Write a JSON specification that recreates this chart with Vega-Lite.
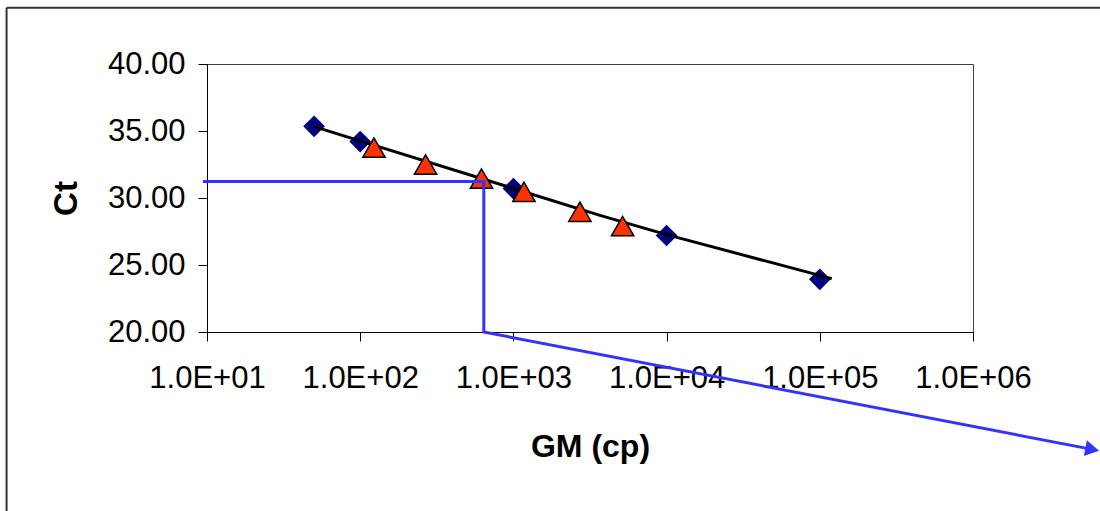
{
  "$schema": "https://vega.github.io/schema/vega-lite/v6.json",
  "width": 766,
  "height": 268,
  "autosize": {"type": "none"},
  "padding": {"left": 207, "top": 64, "right": 127, "bottom": 179},
  "background": "white",
  "config": {
    "view": {"stroke": "#404040", "strokeWidth": 1},
    "font": "Liberation Sans"
  },
  "layer": [
    {
      "data": {"values": [{"frame": "chart area left"}]},
      "mark": {"type": "rule", "color": "#333333", "strokeWidth": 2, "clip": false},
      "encoding": {
        "x": {"datum": 0.4917, "type": "quantitative"},
        "y": {"datum": 44.2, "type": "quantitative"},
        "y2": {"datum": 0}
      }
    },
    {
      "data": {"values": [{"frame": "chart area top"}]},
      "mark": {"type": "rule", "color": "#333333", "strokeWidth": 2, "clip": false},
      "encoding": {
        "x": {"datum": 0.4917, "type": "quantitative"},
        "x2": {"datum": 1000000000},
        "y": {"datum": 44.2, "type": "quantitative"}
      }
    },
    {
      "data": {"values": [
        {"gm": 50, "ct": 35.35},
        {"gm": 100, "ct": 34.21},
        {"gm": 1000, "ct": 30.7},
        {"gm": 10000, "ct": 27.2},
        {"gm": 100000, "ct": 23.93}
      ]},
      "mark": {"type": "point", "shape": "diamond", "filled": true, "color": "#000080", "size": 470, "opacity": 1},
      "encoding": {
        "x": {
          "field": "gm", "type": "quantitative",
          "scale": {"type": "log", "domain": [10, 1000000], "nice": false},
          "axis": {
            "values": [10, 100, 1000, 10000, 100000, 1000000],
            "labelExpr": "'1.0E+0' + round(log(datum.value)/LN10)",
            "grid": false,
            "tickSize": 9,
            "tickColor": "#000000",
            "domainColor": "#000000",
            "labelFontSize": 31,
            "labelColor": "#000000",
            "labelPadding": 22,
            "labelFlush": false,
            "labelOverlap": false,
            "title": "GM (cp)",
            "titleFontSize": 32,
            "titleFontWeight": "bold",
            "titleColor": "#000000",
            "titlePadding": 38
          }
        },
        "y": {
          "field": "ct", "type": "quantitative",
          "scale": {"domain": [20, 40], "nice": false, "zero": false},
          "axis": {
            "values": [20, 25, 30, 35, 40],
            "format": ".2f",
            "grid": false,
            "tickSize": 9,
            "tickColor": "#000000",
            "domainColor": "#000000",
            "labelFontSize": 31,
            "labelColor": "#000000",
            "labelPadding": 13,
            "labelFlush": false,
            "title": "Ct",
            "titleFontSize": 33,
            "titleFontWeight": "bold",
            "titleColor": "#000000",
            "titlePadding": 24
          }
        }
      }
    },
    {
      "data": {"values": [
        {"gm": 50, "ct": 35.33},
        {"gm": 1000, "ct": 30.71},
        {"gm": 3673, "ct": 28.7},
        {"gm": 10000, "ct": 27.27},
        {"gm": 119700, "ct": 23.98}
      ]},
      "mark": {"type": "line", "color": "#000000", "strokeWidth": 3},
      "encoding": {
        "x": {"field": "gm", "type": "quantitative"},
        "y": {"field": "ct", "type": "quantitative"}
      }
    },
    {
      "data": {"values": [
        {"gm": 123, "ct": 33.76},
        {"gm": 267, "ct": 32.5},
        {"gm": 619, "ct": 31.45},
        {"gm": 1172, "ct": 30.46},
        {"gm": 2716, "ct": 28.97},
        {"gm": 5164, "ct": 27.9}
      ]},
      "mark": {"type": "point", "shape": "triangle-up", "filled": true, "fill": "#FF3300", "stroke": "#000000", "strokeWidth": 1.5, "size": 500, "opacity": 1},
      "encoding": {
        "x": {"field": "gm", "type": "quantitative"},
        "y": {"field": "ct", "type": "quantitative"}
      }
    },
    {
      "data": {"values": [
        {"step": 1, "gm": 9.4, "ct": 31.23},
        {"step": 2, "gm": 641, "ct": 31.23},
        {"step": 3, "gm": 641, "ct": 20},
        {"step": 4, "gm": 6000000, "ct": 11.24}
      ]},
      "mark": {"type": "line", "color": "#3333FF", "strokeWidth": 3, "clip": false},
      "encoding": {
        "x": {"field": "gm", "type": "quantitative"},
        "y": {"field": "ct", "type": "quantitative"},
        "order": {"field": "step", "type": "quantitative"}
      }
    },
    {
      "data": {"values": [
        {"gm": 6000000, "ct": 11.24}
      ]},
      "mark": {"type": "point", "shape": "triangle-right", "filled": true, "color": "#3333FF", "size": 256, "angle": 11, "opacity": 1, "clip": false},
      "encoding": {
        "x": {"field": "gm", "type": "quantitative"},
        "y": {"field": "ct", "type": "quantitative"}
      }
    }
  ]
}
